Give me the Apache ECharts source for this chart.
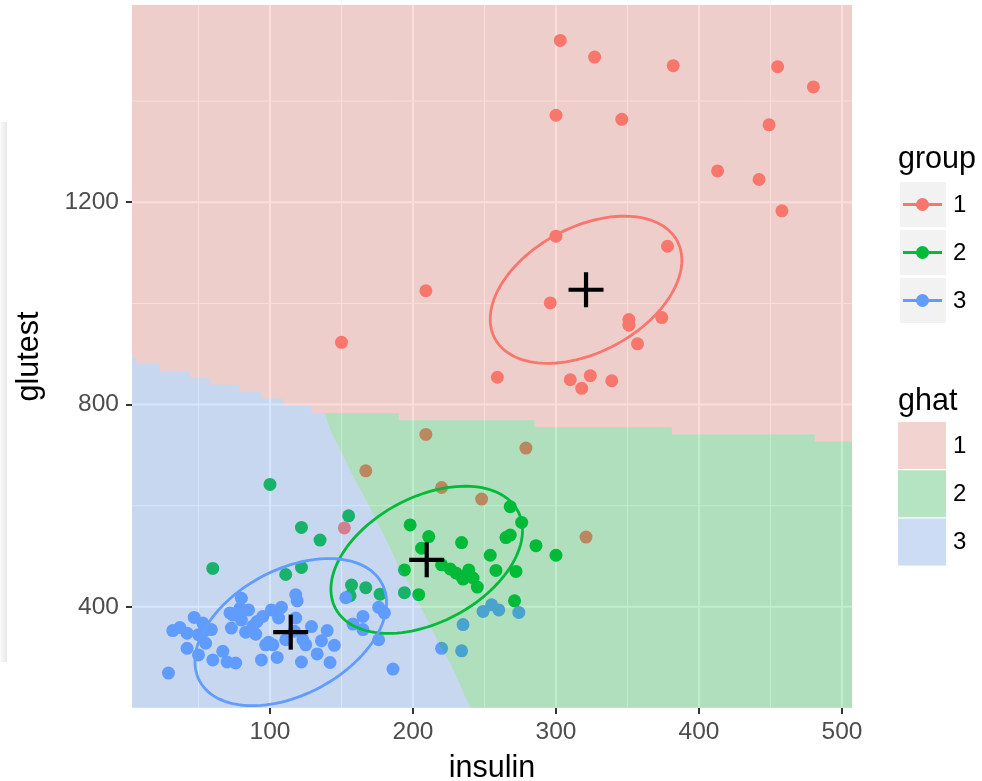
<!DOCTYPE html>
<html lang="en">
<head>
<meta charset="UTF-8">
<title>insulin vs glutest</title>
<style>html,body{margin:0;padding:0;background:#fff;}</style>
</head>
<body>
<div id="main" style="width:982px;height:781px;"></div>
<script src="https://cdn.jsdelivr.net/npm/echarts@6/dist/echarts.min.js"></script>
<script>
// observed points, [insulin, glutest], one array per true group
var group1 = [
  [303, 1520], [327, 1487], [382, 1470], [455, 1468], [480, 1428], [300, 1372], [346, 1364],
  [449, 1353], [413, 1262], [442, 1245], [458, 1183], [300, 1133], [378, 1113], [209, 1025],
  [296, 1001], [351, 968], [351, 957], [374, 972], [357, 920], [150, 923], [259, 854],
  [310, 849], [324, 857], [318, 832], [339, 847],
  [209, 741], [279, 714], [167, 669], [220, 636], [248, 613], [321, 538], [152, 556]
];
var group2 = [
  [198, 562], [211, 539], [206, 516], [234, 527], [268, 598], [276, 567], [265, 537],
  [268, 542], [286, 521], [300, 502], [254, 502], [258, 472], [272, 470], [220, 483],
  [226, 475], [230, 467], [234, 460], [239, 473], [235, 455], [242, 457], [245, 439],
  [204, 424], [271, 412], [194, 473], [194, 428],
  [100, 642], [155, 580], [122, 557], [135, 532], [60, 476], [122, 478], [111, 464],
  [157, 443], [167, 438], [156, 422], [177, 425]
];
var group3 = [
  [29, 269], [32, 353], [37, 359], [42, 348], [47, 379], [53, 368], [50, 345], [59, 355],
  [55, 328], [42, 318], [50, 305], [60, 295], [67, 312], [70, 291], [76, 289], [73, 358],
  [74, 384], [80, 417], [79, 397], [85, 394], [80, 374], [83, 350], [90, 346], [91, 371],
  [95, 381], [101, 394], [108, 399], [106, 378], [97, 325], [94, 295], [105, 300], [102, 325],
  [111, 335], [118, 378], [118, 424], [119, 412], [123, 335], [125, 325], [129, 361], [122, 291],
  [133, 307], [136, 333], [140, 353], [145, 324], [142, 290], [158, 366], [165, 381], [165, 355],
  [176, 335], [176, 399], [180, 388], [186, 277], [153, 418], [72, 388], [54, 352], [117, 352],
  [99, 330], [88, 362],
  [249, 391], [255, 404], [260, 394], [274, 389], [235, 365], [220, 318], [234, 313]
];
var groupNames = ['1', '2', '3'];
var groupColors = ['#F8766D', '#00BA38', '#619CFF'];
var regionFills = ['rgba(248,118,109,0.25)', 'rgba(0,186,56,0.25)', 'rgba(97,156,255,0.25)'];

// group means (the + marks)
var centroids = [[321, 1027], [209.6, 493], [114.5, 350]];

// pooled ellipse shape: half extent in x, in y, and correlation
var ellipseHalfX = 67;
var ellipseHalfY = 145.5;
var ellipseCorr = 0.4;

// ghat regions: lower edge of region 1 is a step line, region 3 / region 2 edge is a line
var redEdgeX = [3.5, 6.5, 23, 44, 58, 79, 94, 109, 129, 190, 285, 381, 481, 507];
var redEdgeY = [893, 880, 866, 853, 839, 826, 812, 798, 783, 769, 755, 741, 727];
var blueEdgeX = [138, 143, 150, 158, 167, 175, 182, 190, 198, 205, 212, 219, 227, 233, 240];
var blueEdgeY = [783, 744, 705, 658, 612, 567, 527, 480, 441, 401, 362, 322, 283, 244, 200];

// axes
var xMin = 3.5, xMax = 507, yMin = 200, yMax = 1590;
var xTicks = [100, 200, 300, 400, 500];
var yTicks = [400, 800, 1200];
var xMinor = [50, 150, 250, 350, 450];
var yMinor = [200, 600, 1000, 1400];

var FONT = 'Liberation Sans, Arial, Helvetica, sans-serif';

function redStairs(xHi, xLo) {
  var pts = [];
  for (var i = redEdgeY.length - 1; i >= 0; i--) {
    var a = Math.max(redEdgeX[i], xLo), b = Math.min(redEdgeX[i + 1], xHi);
    if (b <= a) continue;
    pts.push([b, redEdgeY[i]], [a, redEdgeY[i]]);
  }
  return pts;
}

function regionPolygon(k) {
  var blueEdge = blueEdgeX.map(function (x, i) { return [x, blueEdgeY[i]]; });
  var last = blueEdgeX.length - 1;
  if (k === 0) return [[xMin, yMax], [xMax, yMax]].concat(redStairs(xMax, xMin));
  if (k === 1) return [[blueEdgeX[last], yMin], [xMax, yMin]].concat(redStairs(xMax, blueEdgeX[0]), blueEdge);
  return [[xMin, yMin]].concat(blueEdge.slice().reverse(), redStairs(blueEdgeX[0], xMin));
}

// grid lines list built from the break arrays
var gridDefs = [];
xTicks.forEach(function (v) { gridDefs.push({ v: v, vertical: true, w: 2 }); });
xMinor.forEach(function (v) { gridDefs.push({ v: v, vertical: true, w: 1 }); });
yTicks.forEach(function (v) { gridDefs.push({ v: v, vertical: false, w: 2 }); });
yMinor.forEach(function (v) { gridDefs.push({ v: v, vertical: false, w: 1 }); });

var chart = echarts.init(document.getElementById('main'));

var series = [];

// white grid lines on the grey panel
series.push({
  type: 'custom',
  z: 1,
  silent: true,
  clip: true,
  data: gridDefs.map(function (g) { return [g.v]; }),
  renderItem: function (params, api) {
    var g = gridDefs[params.dataIndex];
    var p1 = g.vertical ? api.coord([g.v, yMin]) : api.coord([xMin, g.v]);
    var p2 = g.vertical ? api.coord([g.v, yMax]) : api.coord([xMax, g.v]);
    return {
      type: 'line',
      shape: { x1: p1[0], y1: p1[1], x2: p2[0], y2: p2[1] },
      style: { stroke: '#ffffff', lineWidth: g.w }
    };
  }
});

// points coloured by group
[group1, group2, group3].forEach(function (pts, i) {
  series.push({
    type: 'scatter',
    name: groupNames[i],
    z: 2,
    silent: true,
    symbol: 'circle',
    symbolSize: 13,
    itemStyle: { color: groupColors[i], opacity: 1 },
    data: pts
  });
});

// ghat raster, semi transparent over points
series.push({
  type: 'custom',
  z: 3,
  silent: true,
  clip: true,
  data: [[0], [1], [2]],
  renderItem: function (params, api) {
    var k = params.dataIndex;
    var pts = regionPolygon(k).map(function (p) { return api.coord(p); });
    return {
      type: 'polygon',
      shape: { points: pts },
      style: { fill: regionFills[k] }
    };
  }
});

// ellipses around the means
series.push({
  type: 'custom',
  z: 4,
  silent: true,
  clip: true,
  data: centroids,
  renderItem: function (params, api) {
    var cx = api.value(0), cy = api.value(1);
    var s = Math.sqrt(1 - ellipseCorr * ellipseCorr);
    var pts = [];
    for (var j = 0; j <= 120; j++) {
      var t = j / 120 * Math.PI * 2;
      pts.push(api.coord([
        cx + ellipseHalfX * Math.cos(t),
        cy + ellipseHalfY * (ellipseCorr * Math.cos(t) + s * Math.sin(t))
      ]));
    }
    return {
      type: 'polyline',
      shape: { points: pts },
      style: { stroke: groupColors[params.dataIndex], lineWidth: 2.8, fill: null }
    };
  }
});

// + marks at the means
series.push({
  type: 'custom',
  z: 5,
  silent: true,
  data: centroids,
  renderItem: function (params, api) {
    var c = api.coord([api.value(0), api.value(1)]);
    var h = 17.5;
    var st = { stroke: '#000000', lineWidth: 4.2 };
    return {
      type: 'group',
      children: [
        { type: 'line', shape: { x1: c[0] - h, y1: c[1], x2: c[0] + h, y2: c[1] }, style: st },
        { type: 'line', shape: { x1: c[0], y1: c[1] - h, x2: c[0], y2: c[1] + h }, style: st }
      ]
    };
  }
});

// legends drawn as graphics
var graphics = [];
graphics.push({
  type: 'rect', silent: true,
  shape: { x: 0, y: 122, width: 7, height: 540 },
  style: { fill: new echarts.graphic.LinearGradient(0, 0, 1, 0, [
    { offset: 0, color: 'rgba(0,0,0,0.02)' }, { offset: 1, color: 'rgba(0,0,0,0.09)' }]) }
});
graphics.push({
  type: 'text', silent: true,
  style: { x: 898, y: 160, text: 'group', font: '30.5px ' + FONT, fill: '#000', verticalAlign: 'middle' }
});
groupNames.forEach(function (n, i) {
  var top = 182 + i * 48;
  graphics.push({ type: 'rect', silent: true, shape: { x: 900, y: top, width: 46, height: 45 }, style: { fill: '#F2F2F2' } });
  graphics.push({ type: 'line', silent: true, shape: { x1: 903, y1: top + 22.5, x2: 942, y2: top + 22.5 }, style: { stroke: groupColors[i], lineWidth: 2.8 } });
  graphics.push({ type: 'circle', silent: true, shape: { cx: 922.5, cy: top + 22.5, r: 6.5 }, style: { fill: groupColors[i] } });
  graphics.push({ type: 'text', silent: true, style: { x: 953, y: top + 23, text: n, font: '24px ' + FONT, fill: '#000', verticalAlign: 'middle' } });
});
graphics.push({
  type: 'text', silent: true,
  style: { x: 898, y: 402, text: 'ghat', font: '30.5px ' + FONT, fill: '#000', verticalAlign: 'middle' }
});
groupNames.forEach(function (n, i) {
  var top = 422 + i * 48.3;
  graphics.push({ type: 'rect', silent: true, shape: { x: 898, y: top, width: 48, height: 47 }, style: { fill: '#F2F2F2' } });
  graphics.push({ type: 'rect', silent: true, shape: { x: 898, y: top, width: 48, height: 47 }, style: { fill: regionFills[i] } });
  graphics.push({ type: 'text', silent: true, style: { x: 953, y: top + 24, text: n, font: '24px ' + FONT, fill: '#000', verticalAlign: 'middle' } });
});

var option = {
  animation: false,
  backgroundColor: '#ffffff',
  textStyle: { fontFamily: FONT },
  grid: {
    left: 132, top: 5, width: 720, height: 703,
    show: true, backgroundColor: '#EBEBEB', borderWidth: 0,
    containLabel: false, outerBoundsMode: 'none'
  },
  xAxis: {
    type: 'value', min: xMin, max: xMax,
    name: 'insulin', nameLocation: 'middle', nameGap: 45,
    nameTextStyle: { color: '#000', fontSize: 30.5, fontFamily: FONT },
    axisLine: { show: false },
    splitLine: { show: false },
    axisTick: { show: true, customValues: xTicks, length: 6, lineStyle: { color: '#333333', width: 2 } },
    axisLabel: { customValues: xTicks, color: '#4D4D4D', fontSize: 24.5, margin: 12, fontFamily: FONT,
      formatter: function (v) { return String(v); } }
  },
  yAxis: {
    type: 'value', min: yMin, max: yMax,
    name: 'glutest', nameLocation: 'middle', nameGap: 87,
    nameTextStyle: { color: '#000', fontSize: 30.5, fontFamily: FONT },
    axisLine: { show: false },
    splitLine: { show: false },
    axisTick: { show: true, customValues: yTicks, length: 6, lineStyle: { color: '#333333', width: 2 } },
    axisLabel: { customValues: yTicks, color: '#4D4D4D', fontSize: 24.5, margin: 13, fontFamily: FONT,
      formatter: function (v) { return String(v); } }
  },
  graphic: graphics,
  series: series
};

chart.setOption(option);
</script>
</body>
</html>
